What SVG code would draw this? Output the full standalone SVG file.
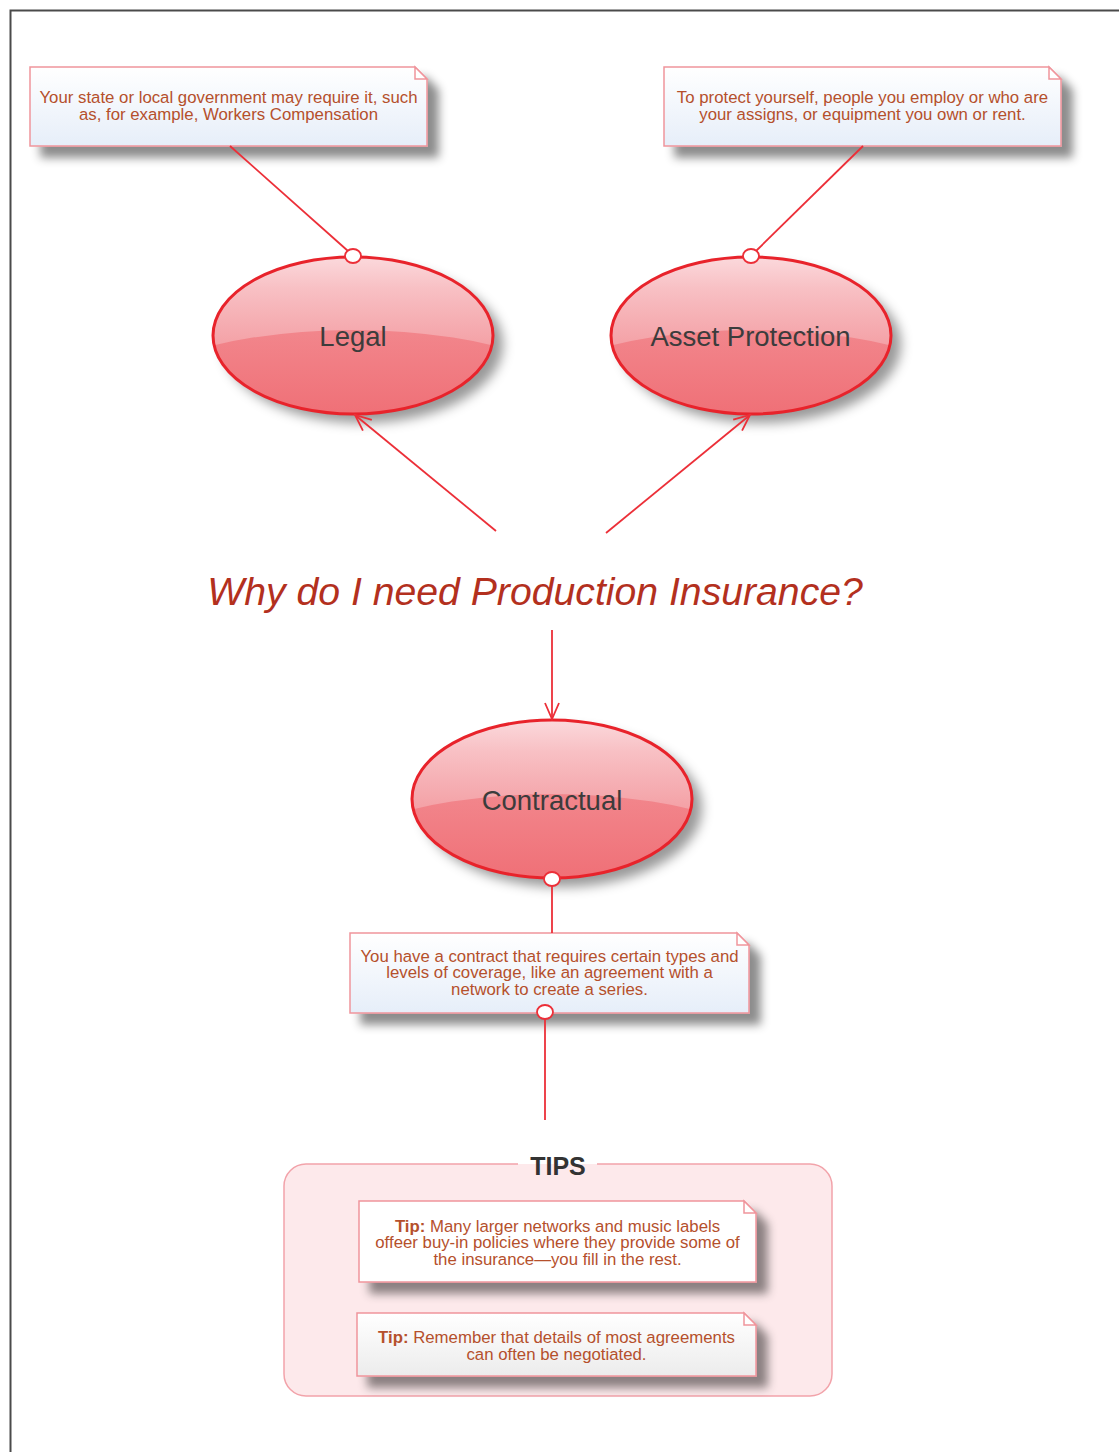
<svg xmlns="http://www.w3.org/2000/svg" width="1119" height="1452" viewBox="0 0 1119 1452">
<defs>
<style>
.note{stroke:#f0959c;stroke-width:1.5;}
.fold{fill:#fff;stroke:#f0959c;stroke-width:1.5;}
.nt{font-family:"Liberation Sans",Arial,sans-serif;font-size:16.8px;fill:#b5502c;text-anchor:middle;}
.lbl{font-family:"Liberation Sans",Arial,sans-serif;font-size:27.5px;fill:#3c3c3c;text-anchor:middle;}
.conn{stroke:#ec2f38;stroke-width:1.8;fill:none;}
.dot{stroke:#ec2f38;stroke-width:1.8;fill:#fff;}
.ell{stroke:#e8232b;stroke-width:3;fill:none;}
</style>
<linearGradient id="noteBlue" x1="0" y1="0" x2="0" y2="1">
<stop offset="0" stop-color="#ffffff"/><stop offset="1" stop-color="#e6eef9"/>
</linearGradient>
<linearGradient id="noteGray" x1="0" y1="0" x2="0" y2="1">
<stop offset="0" stop-color="#ffffff"/><stop offset="1" stop-color="#ececec"/>
</linearGradient>
<linearGradient id="ellTop" x1="0" y1="0" x2="0" y2="1">
<stop offset="0" stop-color="#fbd9dc"/><stop offset="0.2" stop-color="#f8c0c4"/><stop offset="0.55" stop-color="#f4a2a7"/><stop offset="1" stop-color="#f18d93"/>
</linearGradient>
<linearGradient id="ellBot" x1="0" y1="0" x2="0" y2="1">
<stop offset="0" stop-color="#f2868c"/><stop offset="0.5" stop-color="#ef6c73"/><stop offset="1" stop-color="#ec5b63"/>
</linearGradient>
<filter id="sh" x="-20%" y="-20%" width="150%" height="160%">
<feDropShadow dx="11" dy="11" stdDeviation="5" flood-color="#000" flood-opacity="0.45"/>
</filter>
<filter id="shE" x="-20%" y="-20%" width="150%" height="160%">
<feDropShadow dx="10" dy="9" stdDeviation="6" flood-color="#000" flood-opacity="0.4"/>
</filter>
<marker id="arr" viewBox="0 0 20 20" refX="18" refY="10" markerWidth="20" markerHeight="20" markerUnits="userSpaceOnUse" orient="auto">
<path d="M2,3 L18,10 L2,17" fill="none" stroke="#ec2f38" stroke-width="1.8"/>
</marker>
<clipPath id="cLegal"><ellipse cx="353" cy="335.5" rx="140" ry="78.5"/></clipPath>
<clipPath id="cAsset"><ellipse cx="751" cy="335.5" rx="140" ry="78.5"/></clipPath>
<clipPath id="cContr"><ellipse cx="552" cy="799" rx="140" ry="79"/></clipPath>
</defs>

<rect width="1119" height="1452" fill="#fff"/>
<path d="M10.5,1452 V10.5 H1119" fill="none" stroke="#4a4a4a" stroke-width="2"/>

<g id="tips">
<rect x="284" y="1164" width="548" height="232" rx="22" fill="#fde9eb"/>
<path d="M518,1164 H306 A22,22 0 0 0 284,1186 V1374 A22,22 0 0 0 306,1396 H810 A22,22 0 0 0 832,1374 V1186 A22,22 0 0 0 810,1164 H597" fill="none" stroke="#f2a3aa" stroke-width="1.5"/>
<text x="558" y="1175" font-family="'Liberation Sans',Arial,sans-serif" font-size="25" font-weight="bold" fill="#333" text-anchor="middle">TIPS</text>
</g>

<g id="note1">
<path class="note" d="M30,67 H415 L427,79 V146 H30 Z" fill="url(#noteBlue)" filter="url(#sh)"/>
<path class="fold" d="M415,67 V79 H427 Z"/>
<text class="nt"><tspan x="228.5" y="103">Your state or local government may require it, such</tspan><tspan x="228.5" y="119.5">as, for example, Workers Compensation</tspan></text>
</g>

<g id="note2">
<path class="note" d="M664,67 H1049 L1061,79 V146 H664 Z" fill="url(#noteBlue)" filter="url(#sh)"/>
<path class="fold" d="M1049,67 V79 H1061 Z"/>
<text class="nt"><tspan x="862.5" y="103">To protect yourself, people you employ or who are</tspan><tspan x="862.5" y="119.5">your assigns, or equipment you own or rent.</tspan></text>
</g>

<g id="legal">
<ellipse cx="353" cy="335.5" rx="140" ry="78.5" fill="url(#ellTop)" filter="url(#shE)"/>
<ellipse cx="353" cy="430" rx="262" ry="100" fill="url(#ellBot)" clip-path="url(#cLegal)"/>
<ellipse class="ell" cx="353" cy="335.5" rx="140" ry="78.5"/>
<text class="lbl" x="353" y="346">Legal</text>
</g>

<g id="asset">
<ellipse cx="751" cy="335.5" rx="140" ry="78.5" fill="url(#ellTop)" filter="url(#shE)"/>
<ellipse cx="751" cy="430" rx="262" ry="100" fill="url(#ellBot)" clip-path="url(#cAsset)"/>
<ellipse class="ell" cx="751" cy="335.5" rx="140" ry="78.5"/>
<text class="lbl" x="750.5" y="346">Asset Protection</text>
</g>

<g id="question">
<text x="535" y="605" font-family="'Liberation Sans',Arial,sans-serif" font-size="39.2" font-style="italic" fill="#b3301e" text-anchor="middle">Why do I need Production Insurance?</text>
</g>

<g id="contractual">
<ellipse cx="552" cy="799" rx="140" ry="79" fill="url(#ellTop)" filter="url(#shE)"/>
<ellipse cx="552" cy="894" rx="262" ry="100" fill="url(#ellBot)" clip-path="url(#cContr)"/>
<ellipse class="ell" cx="552" cy="799" rx="140" ry="79"/>
<text class="lbl" x="552" y="810">Contractual</text>
</g>

<g id="note3">
<path class="note" d="M350,933 H737 L749,945 V1013 H350 Z" fill="url(#noteBlue)" filter="url(#sh)"/>
<path class="fold" d="M737,933 V945 H749 Z"/>
<text class="nt"><tspan x="549.5" y="961.5">You have a contract that requires certain types and</tspan><tspan x="549.5" y="978.2">levels of coverage, like an agreement with a</tspan><tspan x="549.5" y="995">network to create a series.</tspan></text>
</g>

<g id="tip1">
<path class="note" d="M359,1201 H744 L756,1213 V1282 H359 Z" fill="#fff" filter="url(#sh)"/>
<path class="fold" d="M744,1201 V1213 H756 Z"/>
<text class="nt"><tspan x="557.5" y="1231.5"><tspan font-weight="bold">Tip:</tspan> Many larger networks and music labels</tspan><tspan x="557.5" y="1248.2">offeer buy-in policies where they provide some of</tspan><tspan x="557.5" y="1265">the insurance—you fill in the rest.</tspan></text>
</g>

<g id="tip2">
<path class="note" d="M357,1313 H744 L756,1325 V1376 H357 Z" fill="url(#noteGray)" filter="url(#sh)"/>
<path class="fold" d="M744,1313 V1325 H756 Z"/>
<text class="nt"><tspan x="556.5" y="1343.3"><tspan font-weight="bold">Tip:</tspan> Remember that details of most agreements</tspan><tspan x="556.5" y="1359.5">can often be negotiated.</tspan></text>
</g>

<g id="connectors">
<line class="conn" x1="230" y1="146" x2="348" y2="251"/>
<ellipse class="dot" cx="353" cy="256" rx="8" ry="7"/>
<line class="conn" x1="863" y1="146" x2="756" y2="251"/>
<ellipse class="dot" cx="751" cy="256" rx="8" ry="7"/>
<line class="conn" x1="496" y1="531" x2="355" y2="415" marker-end="url(#arr)"/>
<line class="conn" x1="606" y1="533" x2="750" y2="415" marker-end="url(#arr)"/>
<line class="conn" x1="552" y1="630" x2="552" y2="719" marker-end="url(#arr)"/>
<line class="conn" x1="552" y1="886" x2="552" y2="933"/>
<ellipse class="dot" cx="552" cy="879" rx="8" ry="7"/>
<line class="conn" x1="545" y1="1019" x2="545" y2="1120"/>
<ellipse class="dot" cx="545" cy="1012" rx="8" ry="7"/>
</g>
</svg>
